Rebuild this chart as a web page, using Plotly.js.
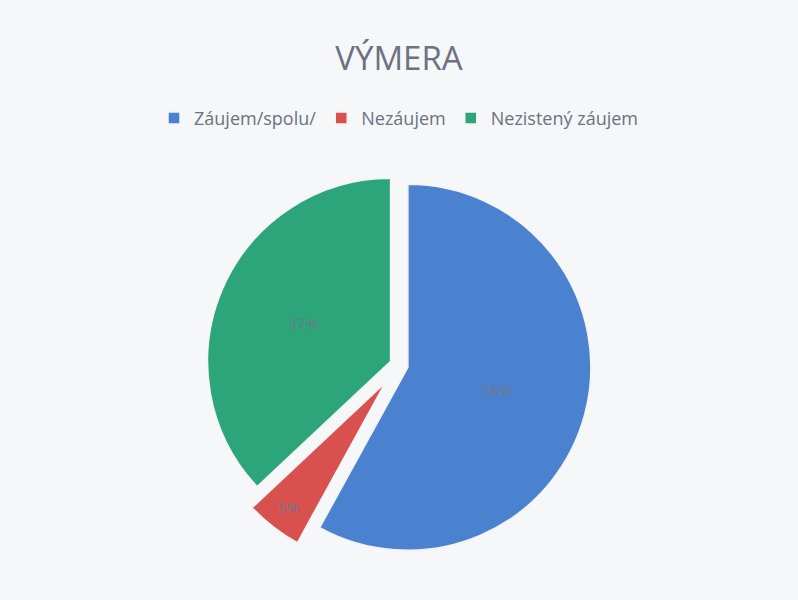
<!DOCTYPE html>
<html>
<head>
<meta charset="utf-8">
<script src="https://cdn.plot.ly/plotly-3.0.1.min.js"></script>
<style>html,body{margin:0;padding:0;background:#f6f7f9;}</style>
</head>
<body>
<div id="chart" style="width:798px;height:600px;"></div>
<script>
const categories = ["Záujem/spolu/", "Nezáujem", "Nezistený záujem"];
const values = [58, 5, 37];
const colors = ["#4a82d0", "#d9514f", "#2ca57b"];

const trace = {
  type: "pie",
  labels: categories,
  values: values,
  sort: false,
  direction: "clockwise",
  rotation: 0,
  pull: [0.05, 0.12, 0.05],
  marker: { colors: colors, line: { color: "#f2f4f7", width: 1.5 } },
  textinfo: "percent",
  textposition: "inside",
  insidetextorientation: "horizontal",
  textfont: { family: "Open Sans, sans-serif", size: 15, color: "#6f7788" },
  hoverinfo: "label+percent",
  domain: { x: [0, 1], y: [0, 1] }
};

const layout = {
  width: 798,
  height: 600,
  paper_bgcolor: "#f6f7f9",
  plot_bgcolor: "#f6f7f9",
  margin: { l: 20, r: 20, t: 160, b: 30 },
  title: {
    text: "VÝMERA",
    font: { family: "Open Sans, sans-serif", size: 33, color: "#6b7282" },
    x: 0.5, xanchor: "center",
    y: 0.903, yanchor: "middle", yref: "container"
  },
  showlegend: true,
  legend: {
    orientation: "h",
    x: 0.5, xanchor: "center",
    y: 0.803, yanchor: "middle", yref: "container",
    font: { family: "Open Sans, sans-serif", size: 18, color: "#6b7282" },
    traceorder: "normal",
    itemwidth: 30,
    entrywidth: 0
  }
};

Plotly.newPlot("chart", [trace], layout, { displayModeBar: false, staticPlot: true });
</script>
</body>
</html>
